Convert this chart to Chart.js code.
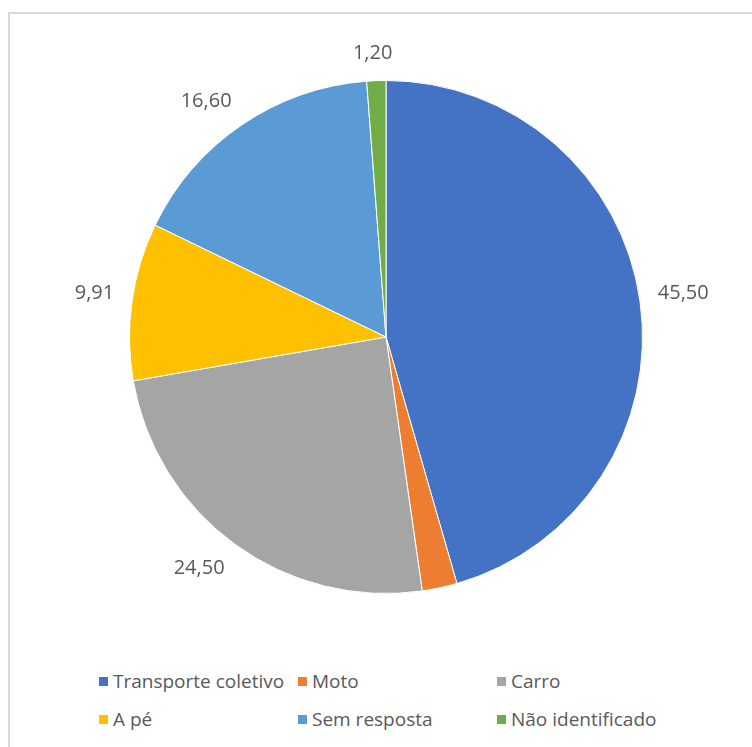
<!DOCTYPE html>
<html>
<head>
<meta charset="utf-8">
<script src="https://cdn.jsdelivr.net/npm/chart.js@4.4.1/dist/chart.umd.min.js"></script>
<style>
  html, body { margin: 0; padding: 0; background: #fff; }
  body { width: 752px; height: 747px; position: relative; overflow: hidden; }
  #frame {
    position: absolute; left: 8px; top: 12px; width: 800px; height: 800px;
    border-left: 2px solid #d9d9d9; border-top: 2px solid #d9d9d9;
    box-sizing: border-box;
  }
  #chartBox { position: absolute; left: 0; top: 0; width: 752px; height: 600px; }
  #legend {
    position: absolute; left: 99px; top: 662px;
    display: grid; grid-template-columns: 199px 199px 199px;
    font-family: "Open Sans", sans-serif; font-size: 19px; color: #595959;
  }
  #legend .item { height: 38px; line-height: 38px; white-space: nowrap; display: flex; align-items: center; }
  #legend .box { width: 9px; height: 9px; margin-right: 5px; flex: none; }
</style>
</head>
<body>
<div id="frame"></div>
<div id="chartBox"><canvas id="pieChart"></canvas></div>
<div id="legend"></div>
<script>
const categories = ["Transporte coletivo", "Moto", "Carro", "A pé", "Sem resposta", "Não identificado"];
const shares = [45.5, 2.2, 24.5, 9.91, 16.6, 1.2];
const sliceColors = ["#4472C4", "#ED7D31", "#A5A5A5", "#FFC000", "#5B9BD5", "#70AD47"];

const fmt = (v) => v.toFixed(2).replace(".", ",");

// value labels just outside each slice, pushed out by the text box
const outsideLabels = {
  id: "outsideLabels",
  afterDatasetsDraw(chart) {
    const ctx = chart.ctx;
    const arcs = chart.getDatasetMeta(0).data;
    ctx.save();
    ctx.font = "20px 'Open Sans', sans-serif";
    ctx.fillStyle = "#595959";
    ctx.textAlign = "center";
    ctx.textBaseline = "middle";
    arcs.forEach((arc, i) => {
      const { x, y, startAngle, endAngle, outerRadius } = arc.getProps(
        ["x", "y", "startAngle", "endAngle", "outerRadius"], true);
      const mid = (startAngle + endAngle) / 2;
      const cos = Math.cos(mid);
      const sin = Math.sin(mid);
      const text = fmt(shares[i]);
      const w = ctx.measureText(text).width;
      const h = 18;
      const gap = 18;
      const ax = x + (outerRadius + gap) * cos;
      const ay = y + (outerRadius + gap) * sin;
      const k = 4;
      const ox = (w / 2) * Math.max(-1, Math.min(1, cos * k));
      const oy = (h / 2) * Math.max(-1, Math.min(1, sin * k));
      ctx.fillText(text, ax + ox, ay + oy);
    });
    ctx.restore();
  },
};

const chart = new Chart(document.getElementById("pieChart"), {
  type: "pie",
  data: {
    labels: categories,
    datasets: [
      {
        data: shares,
        backgroundColor: sliceColors,
        borderColor: "#ffffff",
        borderWidth: 1,
      },
    ],
  },
  options: {
    responsive: true,
    maintainAspectRatio: false,
    animation: false,
    layout: { padding: { top: 80, bottom: 6, left: 129, right: 109 } },
    plugins: {
      legend: { display: false },
      tooltip: { enabled: false },
    },
  },
  plugins: [outsideLabels],
});

// legend in three columns under the pie
const legendEl = document.getElementById("legend");
categories.forEach((name, i) => {
  legendEl.insertAdjacentHTML(
    "beforeend",
    `<div class="item"><span class="box" style="background:${sliceColors[i]}"></span>${name}</div>`
  );
});
</script>
</body>
</html>
